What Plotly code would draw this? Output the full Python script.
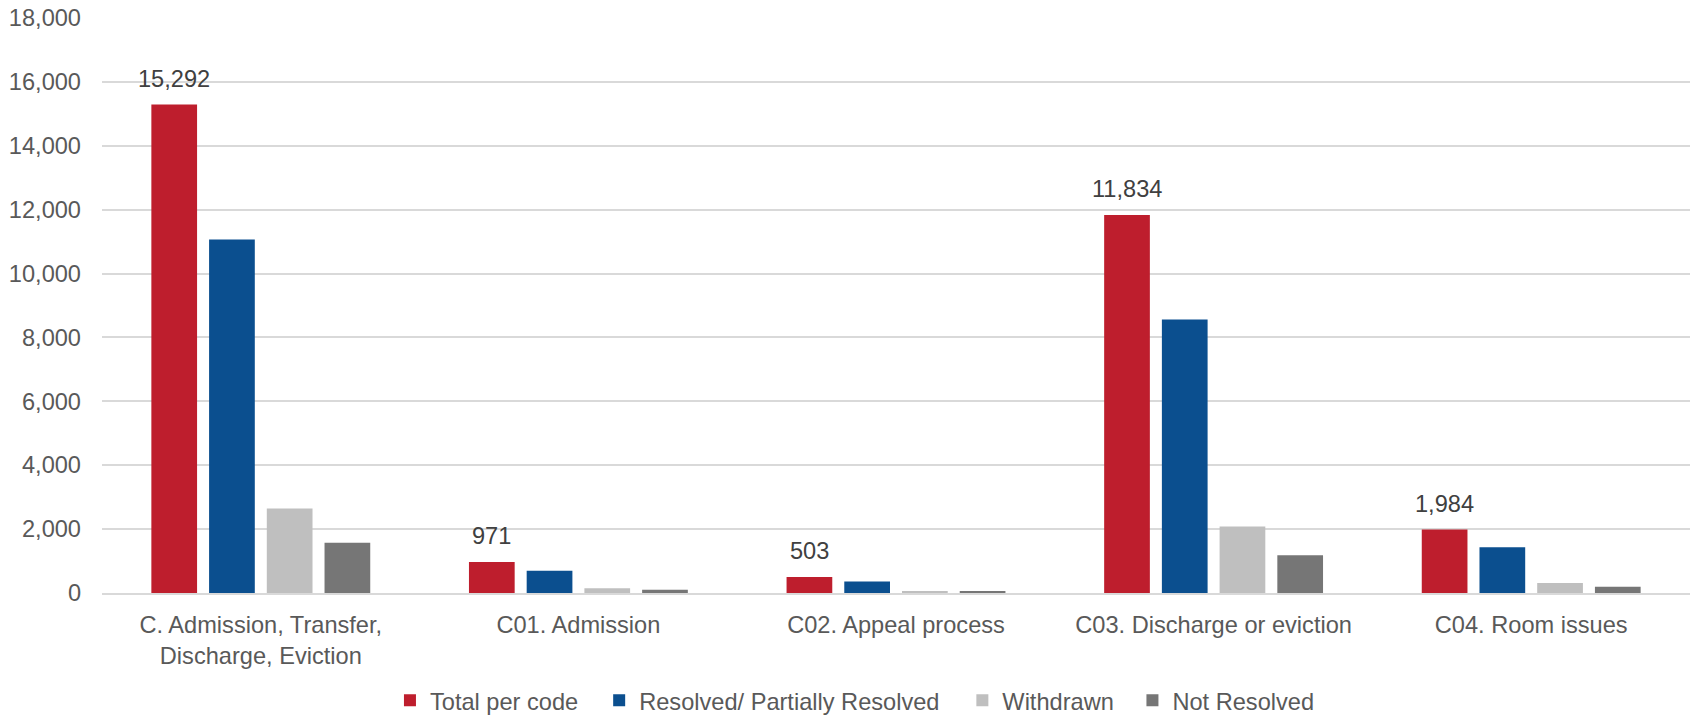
import plotly.graph_objects as go

categories = [
    "C. Admission, Transfer,<br>Discharge, Eviction",
    "C01. Admission",
    "C02. Appeal process",
    "C03. Discharge or eviction",
    "C04. Room issues",
]
total_per_code = [15292, 971, 503, 11834, 1984]
resolved = [11070, 694, 363, 8560, 1435]
withdrawn = [2644, 145, 52, 2084, 314]
not_resolved = [1574, 104, 52, 1183, 199]

y_ticks = list(range(0, 18001, 2000))

series = [
    ("Total per code", total_per_code, "#BE1E2D"),
    ("Resolved/ Partially Resolved", resolved, "#0B4F8F"),
    ("Withdrawn", withdrawn, "#BFBFBF"),
    ("Not Resolved", not_resolved, "#767676"),
]
# left edge (container fraction) of each legend entry
legend_x = [0.2302, 0.3537, 0.5681, 0.6685]

FONT = "Liberation Sans, Arial, sans-serif"
FS = 23.6
BARGAP = 0.273
N_SERIES = len(series)

fig = go.Figure()
legend_layouts = {}
for k, (name, vals, color) in enumerate(series):
    lname = "legend" if k == 0 else f"legend{k + 1}"
    fig.add_trace(go.Bar(
        name=name, x=categories, y=vals,
        marker=dict(color=color, line=dict(width=0)),
        legend=lname,
    ))
    legend_layouts[lname] = dict(
        orientation="h", xref="container", yref="container",
        x=legend_x[k], xanchor="left", y=1 - 700.5 / 715, yanchor="middle",
        font=dict(family=FONT, size=FS, color="#595959"),
        itemwidth=30, bgcolor="rgba(0,0,0,0)",
    )

# value labels above the "Total per code" bars (first bar of each group)
group_w = 1 - BARGAP
first_offset = -group_w / 2 + group_w / N_SERIES / 2
annotations = [
    dict(
        x=i + first_offset, y=v, xref="x", yref="y",
        text=f"{v:,}", showarrow=False, yanchor="bottom", yshift=11,
        font=dict(family=FONT, size=FS, color="#404040"),
    )
    for i, v in enumerate(total_per_code)
]

fig.update_layout(
    width=1694, height=715,
    margin=dict(l=102, r=4, t=18, b=122, autoexpand=False),
    paper_bgcolor="white", plot_bgcolor="white",
    barmode="group", bargap=BARGAP, bargroupgap=0.208,
    font=dict(family=FONT, size=FS, color="#595959"),
    showlegend=True,
    annotations=annotations,
    **legend_layouts,
)
fig.update_yaxes(
    range=[0, 18000], tickvals=y_ticks, tickformat=",",
    showgrid=True, gridcolor="#D9D9D9", gridwidth=2,
    zeroline=False, showline=False, ticks="",
    tickfont=dict(family=FONT, size=FS, color="#595959"),
    ticklabelstandoff=20, automargin=False,
)
fig.update_xaxes(
    showline=True, linecolor="#D9D9D9", linewidth=2,
    ticks="", tickfont=dict(family=FONT, size=FS, color="#595959"),
    ticklabelstandoff=10, automargin=False,
)

fig.write_html("out.html")
